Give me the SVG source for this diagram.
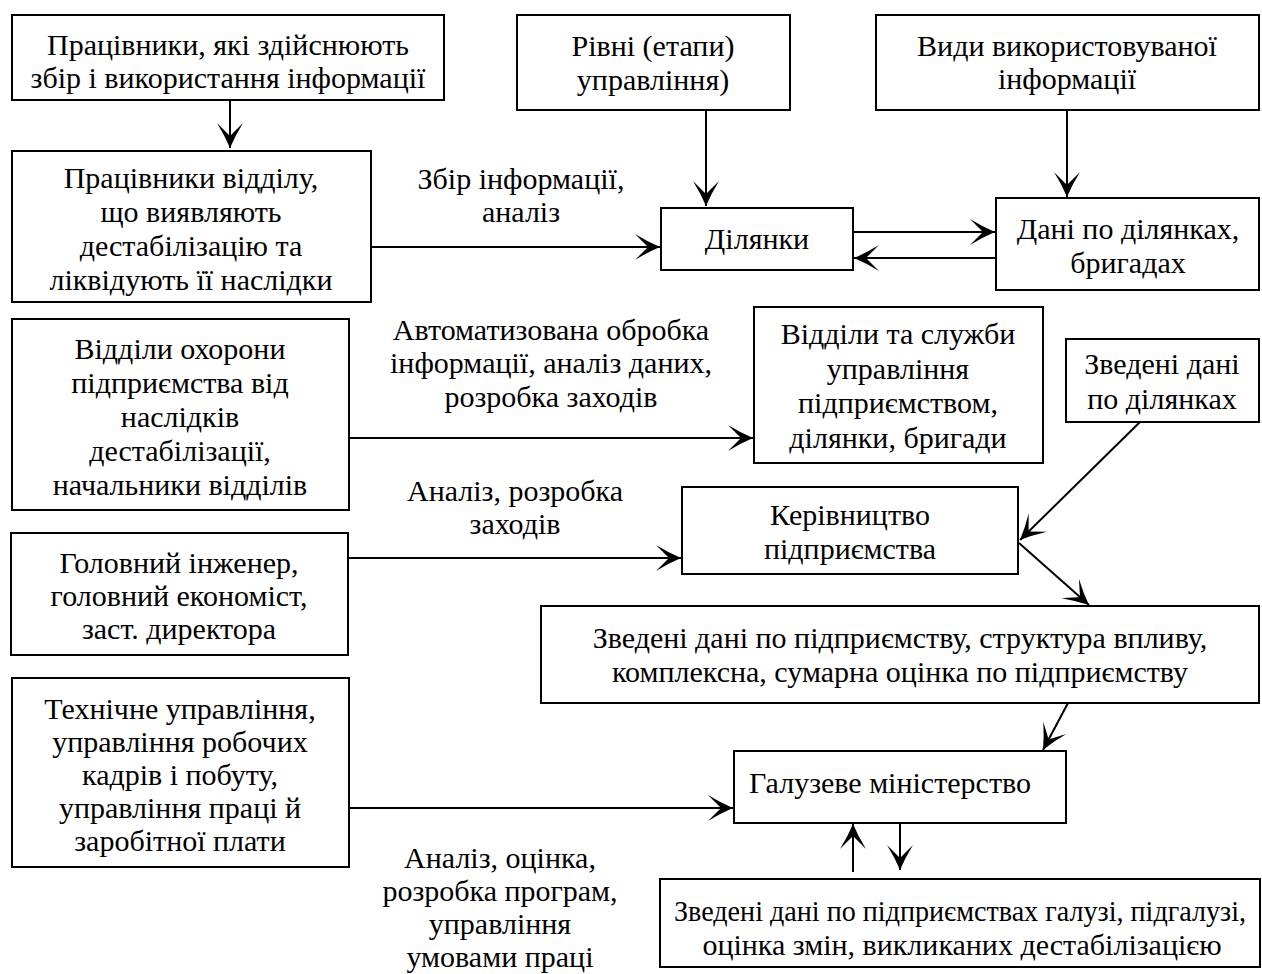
<svg xmlns="http://www.w3.org/2000/svg" width="1262" height="974" viewBox="0 0 1262 974">
<style>
.box{fill:#fff;stroke:#000;stroke-width:2}
.t{font-family:"Liberation Serif","Times New Roman",serif;font-size:30px;fill:#000;text-anchor:middle}
.ln{fill:none;stroke:#000;stroke-width:2;marker-end:url(#ah)}
</style>
<defs>
<marker id="ah" markerUnits="userSpaceOnUse" viewBox="-26 -14 28 28" markerWidth="28" markerHeight="28" refX="0" refY="0" orient="auto" overflow="visible">
<path d="M0,0 Q-12,-5 -25,-13 Q-16,-4 -12,0 Q-16,4 -25,13 Q-12,5 0,0 Z" fill="#000"/>
</marker>
</defs>
<rect width="1262" height="974" fill="#fff"/>

<g id="connectors">
<line class="ln" x1="230" y1="100" x2="230" y2="148"/>
<line class="ln" x1="706" y1="110" x2="706" y2="206"/>
<line class="ln" x1="1067" y1="110" x2="1067" y2="197"/>
<line class="ln" x1="371" y1="247" x2="660" y2="247"/>
<line class="ln" x1="853" y1="232" x2="995" y2="232"/>
<line class="ln" x1="996" y1="258" x2="854" y2="258"/>
<line class="ln" x1="349" y1="438" x2="753" y2="438"/>
<line class="ln" x1="1140" y1="422" x2="1020" y2="540"/>
<line class="ln" x1="349" y1="558" x2="681" y2="558"/>
<line class="ln" x1="1019" y1="543" x2="1089" y2="605"/>
<line class="ln" x1="1068" y1="703" x2="1043" y2="750"/>
<line class="ln" x1="349" y1="808" x2="733" y2="808"/>
<line class="ln" x1="853" y1="872" x2="853" y2="824"/>
<line class="ln" x1="900" y1="823" x2="900" y2="870"/>
<text class="t" x="521" y="189">Збір інформації,</text>
<text class="t" x="521" y="222">аналіз</text>
<text class="t" x="551" y="340">Автоматизована обробка</text>
<text class="t" x="551" y="373">інформації, аналіз даних,</text>
<text class="t" x="551" y="407">розробка заходів</text>
<text class="t" x="515" y="501">Аналіз, розробка</text>
<text class="t" x="515" y="534">заходів</text>
<text class="t" x="500" y="868">Аналіз, оцінка,</text>
<text class="t" x="500" y="901">розробка програм,</text>
<text class="t" x="500" y="934">управління</text>
<text class="t" x="500" y="967">умовами праці</text>
</g>

<g id="n1">
<rect class="box" x="12" y="15" width="432" height="85"/>
<text class="t" x="228" y="55">Працівники, які здійснюють</text>
<text class="t" x="228" y="88">збір і використання інформації</text>
</g>
<g id="n2">
<rect class="box" x="12" y="151" width="359" height="151"/>
<text class="t" x="191" y="188">Працівники відділу,</text>
<text class="t" x="191" y="222">що виявляють</text>
<text class="t" x="191" y="256">дестабілізацію та</text>
<text class="t" x="191" y="290">ліквідують її наслідки</text>
</g>
<g id="n3">
<rect class="box" x="517" y="15" width="273" height="95"/>
<text class="t" x="653" y="56">Рівні (етапи)</text>
<text class="t" x="653" y="90">управління)</text>
</g>
<g id="n4">
<rect class="box" x="876" y="15" width="383" height="95"/>
<text class="t" x="1067" y="56">Види використовуваної</text>
<text class="t" x="1067" y="89">інформації</text>
</g>
<g id="n5">
<rect class="box" x="661" y="208" width="192" height="62"/>
<text class="t" x="757" y="249">Ділянки</text>
</g>
<g id="n6">
<rect class="box" x="996" y="198" width="263" height="92"/>
<text class="t" x="1128" y="239">Дані по ділянках,</text>
<text class="t" x="1128" y="273">бригадах</text>
</g>
<g id="n7">
<rect class="box" x="12" y="319" width="337" height="191"/>
<text class="t" x="180" y="359">Відділи охорони</text>
<text class="t" x="180" y="393">підприємства від</text>
<text class="t" x="180" y="427">наслідків</text>
<text class="t" x="180" y="461">дестабілізації,</text>
<text class="t" x="180" y="495">начальники відділів</text>
</g>
<g id="n8">
<rect class="box" x="754" y="307" width="289" height="156"/>
<text class="t" x="898" y="344">Відділи та служби</text>
<text class="t" x="898" y="379">управління</text>
<text class="t" x="898" y="413">підприємством,</text>
<text class="t" x="898" y="448">ділянки, бригади</text>
</g>
<g id="n9">
<rect class="box" x="1066" y="339" width="193" height="83"/>
<text class="t" x="1162" y="374">Зведені дані</text>
<text class="t" x="1162" y="409">по ділянках</text>
</g>
<g id="n10">
<rect class="box" x="682" y="487" width="336" height="87"/>
<text class="t" x="850" y="525">Керівництво</text>
<text class="t" x="850" y="559">підприємства</text>
</g>
<g id="n11">
<rect class="box" x="11" y="533" width="337" height="122"/>
<text class="t" x="179" y="573">Головний інженер,</text>
<text class="t" x="179" y="606">головний економіст,</text>
<text class="t" x="179" y="639">заст. директора</text>
</g>
<g id="n12">
<rect class="box" x="541" y="606" width="718" height="97"/>
<text class="t" x="900" y="648">Зведені дані по підприємству, структура впливу,</text>
<text class="t" x="900" y="682">комплексна, сумарна оцінка по підприємству</text>
</g>
<g id="n13">
<rect class="box" x="12" y="678" width="337" height="189"/>
<text class="t" x="180" y="719">Технічне управління,</text>
<text class="t" x="180" y="752">управління робочих</text>
<text class="t" x="180" y="785">кадрів і побуту,</text>
<text class="t" x="180" y="818">управління праці й</text>
<text class="t" x="180" y="851">заробітної плати</text>
</g>
<g id="n14">
<rect class="box" x="734" y="751" width="332" height="72"/>
<text class="t" x="890" y="793">Галузеве міністерство</text>
</g>
<g id="n15">
<rect class="box" x="660" y="879" width="600" height="88"/>
<text class="t" x="960" y="921" style="font-size:29px" textLength="572" lengthAdjust="spacingAndGlyphs">Зведені дані по підприємствах галузі, підгалузі,</text>
<text class="t" x="962" y="955">оцінка змін, викликаних дестабілізацією</text>
</g>
</svg>
